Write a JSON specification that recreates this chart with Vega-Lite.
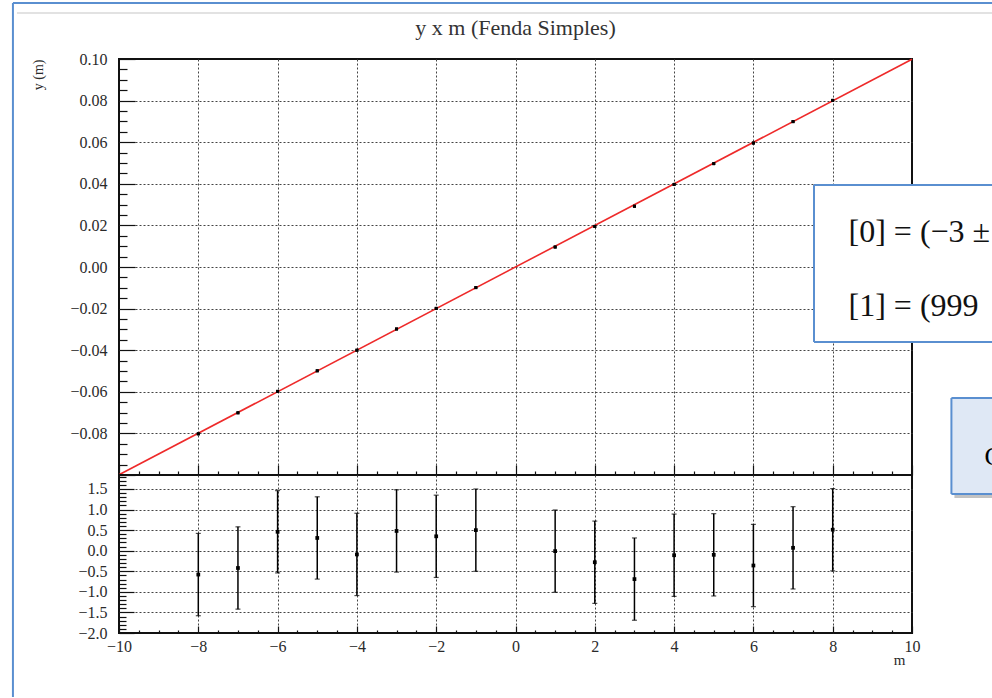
{
  "$schema": "https://vega.github.io/schema/vega-lite/v6.json",
  "background": "white",
  "padding": {"left": 10, "top": 1, "right": 0, "bottom": 0},
  "spacing": 0,
  "bounds": "flush",
  "datasets": {
    "pts": [
      {"m": -8, "y": -0.0802, "res": -0.58, "lo": -1.58, "hi": 0.42},
      {"m": -7, "y": -0.0701, "res": -0.42, "lo": -1.42, "hi": 0.58},
      {"m": -6, "y": -0.0598, "res": 0.46, "lo": -0.54, "hi": 1.46},
      {"m": -5, "y": -0.0499, "res": 0.31, "lo": -0.69, "hi": 1.31},
      {"m": -4, "y": -0.0400, "res": -0.09, "lo": -1.09, "hi": 0.91},
      {"m": -3, "y": -0.0298, "res": 0.48, "lo": -0.52, "hi": 1.48},
      {"m": -2, "y": -0.0199, "res": 0.35, "lo": -0.65, "hi": 1.35},
      {"m": -1, "y": -0.0099, "res": 0.5, "lo": -0.5, "hi": 1.5},
      {"m": 1, "y": 0.0096, "res": -0.01, "lo": -1.01, "hi": 0.99},
      {"m": 2, "y": 0.0195, "res": -0.28, "lo": -1.28, "hi": 0.72},
      {"m": 3, "y": 0.0292, "res": -0.69, "lo": -1.69, "hi": 0.31},
      {"m": 4, "y": 0.0397, "res": -0.11, "lo": -1.11, "hi": 0.89},
      {"m": 5, "y": 0.0497, "res": -0.10, "lo": -1.10, "hi": 0.90},
      {"m": 6, "y": 0.0596, "res": -0.36, "lo": -1.36, "hi": 0.64},
      {"m": 7, "y": 0.0699, "res": 0.07, "lo": -0.93, "hi": 1.07},
      {"m": 8, "y": 0.0801, "res": 0.51, "lo": -0.49, "hi": 1.51}
    ],
    "fit": [
      {"m": -10, "y": -0.0999},
      {"m": 10, "y": 0.0999}
    ],
    "one": [{}]
  },
  "config": {
    "view": {"stroke": "#111", "strokeWidth": 2},
    "axis": {
      "labelFont": "Liberation Serif",
      "titleFont": "Liberation Serif",
      "labelFontSize": 16,
      "titleFontSize": 15,
      "titleFontWeight": "normal",
      "labelColor": "#2a2a2a",
      "titleColor": "#2a2a2a",
      "domain": false,
      "tickColor": "#111",
      "tickWidth": 1.2,
      "gridColor": "#444",
      "gridDash": [2, 2],
      "gridWidth": 1,
      "labelOverlap": false,
      "labelFlush": false
    }
  },
  "vconcat": [
    {
      "width": 793,
      "height": 416,
      "resolve": {"axis": {"x": "independent", "y": "independent"}},
      "layer": [
        {
          "data": {"name": "fit"},
          "mark": {"type": "line", "color": "#ee2a2a", "strokeWidth": 1.6},
          "encoding": {
            "x": {
              "field": "m", "type": "quantitative",
              "scale": {"domain": [-10, 10], "nice": false, "zero": false},
              "axis": {
                "orient": "bottom", "title": null, "labels": false, "ticks": false, "grid": true,
                "values": [-8, -6, -4, -2, 0, 2, 4, 6, 8]
              }
            },
            "y": {
              "field": "y", "type": "quantitative",
              "scale": {"domain": [-0.1, 0.1], "nice": false, "zero": false},
              "axis": {
                "orient": "left",
                "title": "y (m)",
                "titleFontSize": 14,
                "titleAnchor": "end",
                "titleAngle": -90,
                "titleAlign": "right",
                "titleBaseline": "middle",
                "titleX": -81,
                "titleY": 0,
                "values": [-0.08, -0.06, -0.04, -0.02, 0, 0.02, 0.04, 0.06, 0.08, 0.1],
                "format": ".2f",
                "ticks": false,
                "labelPadding": 12,
                "grid": true,
                "gridOpacity": {"condition": {"test": "datum.value > 0.099", "value": 0}, "value": 1}
              }
            }
          }
        },
        {
          "data": {"name": "pts"},
          "mark": {"type": "square", "color": "#000", "size": 9, "opacity": 1},
          "encoding": {
            "x": {
              "field": "m", "type": "quantitative",
              "axis": {"orient": "bottom", "title": null, "labels": false, "grid": false, "tickSize": 10, "offset": -10,
                "values": [-10, -8, -6, -4, -2, 0, 2, 4, 6, 8, 10]}
            },
            "y": {
              "field": "y", "type": "quantitative",
              "axis": {"orient": "left", "title": null, "labels": false, "grid": false, "tickSize": 16, "offset": -16,
                "values": [-0.1, -0.08, -0.06, -0.04, -0.02, 0, 0.02, 0.04, 0.06, 0.08, 0.1]}
            }
          }
        },
        {
          "data": {"name": "pts"},
          "mark": {"type": "square", "color": "#000", "size": 9, "opacity": 1},
          "encoding": {
            "x": {
              "field": "m", "type": "quantitative",
              "axis": {"orient": "bottom", "title": null, "labels": false, "grid": false, "tickSize": 4, "offset": -4,
                "values": [-9.5,-9,-8.5,-7.5,-7,-6.5,-5.5,-5,-4.5,-3.5,-3,-2.5,-1.5,-1,-0.5,0.5,1,1.5,2.5,3,3.5,4.5,5,5.5,6.5,7,7.5,8.5,9,9.5]}
            },
            "y": {
              "field": "y", "type": "quantitative",
              "axis": {"orient": "left", "title": null, "labels": false, "grid": false, "tickSize": 8, "offset": -8,
                "values": [-0.095,-0.09,-0.085,-0.075,-0.07,-0.065,-0.055,-0.05,-0.045,-0.035,-0.03,-0.025,-0.015,-0.01,-0.005,0.005,0.01,0.015,0.025,0.03,0.035,0.045,0.05,0.055,0.065,0.07,0.075,0.085,0.09,0.095]}
            }
          }
        },
        {
          "data": {"name": "one"},
          "mark": {"type": "text", "align": "center", "baseline": "alphabetic", "font": "Liberation Serif", "fontSize": 22, "color": "#333"},
          "encoding": {"x": {"datum": 0, "axis": null}, "y": {"datum": 0.11154, "axis": null}, "text": {"value": "y x m (Fenda Simples)"}}
        },
        {
          "data": {"name": "one"},
          "mark": {"type": "rule", "color": "#5a8fd0", "strokeWidth": 2},
          "encoding": {"x": {"datum": -12.675, "axis": null}, "y": {"datum": 0.12692, "axis": null}, "y2": {"datum": -0.2067}}
        },
        {
          "data": {"name": "one"},
          "mark": {"type": "rule", "color": "#5a8fd0", "strokeWidth": 2},
          "encoding": {"x": {"datum": -12.675, "axis": null}, "x2": {"datum": 12.05}, "y": {"datum": 0.12692, "axis": null}}
        },
        {
          "data": {"name": "one"},
          "mark": {"type": "rule", "color": "#d9d9d9", "strokeWidth": 1.5},
          "encoding": {"x": {"datum": -12.574, "axis": null}, "x2": {"datum": 12.05}, "y": {"datum": 0.12212, "axis": null}}
        },
        {
          "data": {"name": "one"},
          "mark": {"type": "rect", "color": "white"},
          "encoding": {"x": {"datum": 7.528, "axis": null}, "x2": {"datum": 12.05}, "y": {"datum": 0.03942, "axis": null}, "y2": {"datum": -0.03606}}
        },
        {
          "data": {"name": "one"},
          "mark": {"type": "rule", "color": "#5a8fd0", "strokeWidth": 2},
          "encoding": {"x": {"datum": 7.528, "axis": null}, "x2": {"datum": 12.05}, "y": {"datum": 0.03942, "axis": null}}
        },
        {
          "data": {"name": "one"},
          "mark": {"type": "rule", "color": "#5a8fd0", "strokeWidth": 2},
          "encoding": {"x": {"datum": 7.528, "axis": null}, "x2": {"datum": 12.05}, "y": {"datum": -0.03606, "axis": null}}
        },
        {
          "data": {"name": "one"},
          "mark": {"type": "rule", "color": "#5a8fd0", "strokeWidth": 2},
          "encoding": {"x": {"datum": 7.528, "axis": null}, "y": {"datum": 0.03942, "axis": null}, "y2": {"datum": -0.03606}}
        },
        {
          "data": {"name": "one"},
          "mark": {"type": "text", "align": "left", "baseline": "middle", "font": "Liberation Serif", "fontSize": 32, "color": "#111", "limit": 144, "ellipsis": "\u200b"},
          "encoding": {"x": {"datum": 8.40, "axis": null}, "y": {"datum": 0.01683, "axis": null}, "text": {"value": "[0] = (−3 ±"}}
        },
        {
          "data": {"name": "one"},
          "mark": {"type": "text", "align": "left", "baseline": "middle", "font": "Liberation Serif", "fontSize": 32, "color": "#111", "limit": 146, "ellipsis": "\u200b"},
          "encoding": {"x": {"datum": 8.40, "axis": null}, "y": {"datum": -0.01875, "axis": null}, "text": {"value": "[1] = (999 ±"}}
        },
        {
          "data": {"name": "one"},
          "mark": {"type": "rect", "color": "#9a9a9a", "opacity": 0.6},
          "encoding": {"x": {"datum": 11.07, "axis": null}, "x2": {"datum": 12.05}, "y": {"datum": -0.0645, "axis": null}, "y2": {"datum": -0.1111}}
        },
        {
          "data": {"name": "one"},
          "mark": {"type": "rect", "color": "#dfe8f5"},
          "encoding": {"x": {"datum": 10.994, "axis": null}, "x2": {"datum": 12.05}, "y": {"datum": -0.06298, "axis": null}, "y2": {"datum": -0.10913}}
        },
        {
          "data": {"name": "one"},
          "mark": {"type": "rule", "color": "#5a8fd0", "strokeWidth": 2},
          "encoding": {"x": {"datum": 10.994, "axis": null}, "x2": {"datum": 12.05}, "y": {"datum": -0.06298, "axis": null}}
        },
        {
          "data": {"name": "one"},
          "mark": {"type": "rule", "color": "#5a8fd0", "strokeWidth": 2},
          "encoding": {"x": {"datum": 10.994, "axis": null}, "x2": {"datum": 12.05}, "y": {"datum": -0.10913, "axis": null}}
        },
        {
          "data": {"name": "one"},
          "mark": {"type": "rule", "color": "#5a8fd0", "strokeWidth": 2},
          "encoding": {"x": {"datum": 10.994, "axis": null}, "y": {"datum": -0.06298, "axis": null}, "y2": {"datum": -0.10913}}
        },
        {
          "data": {"name": "one"},
          "mark": {"type": "text", "align": "left", "baseline": "middle", "font": "Liberation Serif", "fontSize": 26, "color": "#000"},
          "encoding": {"x": {"datum": 11.827, "axis": null}, "y": {"datum": -0.09135, "axis": null}, "text": {"value": "C"}}
        }
      ]
    },
    {
      "width": 793,
      "height": 158,
      "data": {"name": "pts"},
      "resolve": {"axis": {"x": "independent", "y": "independent"}},
      "layer": [
        {
          "mark": {"type": "rule", "color": "#000", "strokeWidth": 1.5},
          "encoding": {
            "x": {
              "field": "m", "type": "quantitative",
              "scale": {"domain": [-10, 10], "nice": false, "zero": false},
              "axis": {
                "orient": "bottom",
                "title": "m",
                "titleAnchor": "end",
                "titleAlign": "right",
                "titleBaseline": "alphabetic",
                "titleX": 786,
                "titleY": 31,
                "values": [-10, -8, -6, -4, -2, 0, 2, 4, 6, 8, 10],
                "format": "d",
                "ticks": false,
                "labelPadding": 5,
                "grid": true,
                "gridOpacity": {"condition": {"test": "abs(datum.value) > 9.9", "value": 0}, "value": 1}
              }
            },
            "y": {
              "field": "lo", "type": "quantitative",
              "scale": {"domain": [-2, 1.84], "nice": false, "zero": false},
              "axis": {
                "orient": "left",
                "title": null,
                "values": [-2, -1.5, -1, -0.5, 0, 0.5, 1, 1.5],
                "format": ".1f",
                "ticks": false,
                "labelPadding": 12,
                "grid": true,
                "gridOpacity": {"condition": {"test": "datum.value < -1.95", "value": 0}, "value": 1}
              }
            },
            "y2": {"field": "hi"}
          }
        },
        {
          "mark": {"type": "tick", "color": "#000", "orient": "horizontal", "size": 5, "thickness": 1.2},
          "encoding": {
            "x": {
              "field": "m", "type": "quantitative",
              "axis": {"orient": "bottom", "title": null, "labels": false, "grid": false, "tickSize": 7, "offset": -7,
                "values": [-10, -8, -6, -4, -2, 0, 2, 4, 6, 8, 10]}
            },
            "y": {
              "field": "lo", "type": "quantitative",
              "axis": {"orient": "left", "title": null, "labels": false, "grid": false, "tickSize": 15, "offset": -15,
                "values": [-2, -1.5, -1, -0.5, 0, 0.5, 1, 1.5]}
            }
          }
        },
        {
          "mark": {"type": "tick", "color": "#000", "orient": "horizontal", "size": 5, "thickness": 1.2},
          "encoding": {
            "x": {
              "field": "m", "type": "quantitative",
              "axis": {"orient": "bottom", "title": null, "labels": false, "grid": false, "tickSize": 3, "offset": -3,
                "values": [-9.5,-9,-8.5,-7.5,-7,-6.5,-5.5,-5,-4.5,-3.5,-3,-2.5,-1.5,-1,-0.5,0.5,1,1.5,2.5,3,3.5,4.5,5,5.5,6.5,7,7.5,8.5,9,9.5]}
            },
            "y": {
              "field": "hi", "type": "quantitative",
              "axis": {"orient": "left", "title": null, "labels": false, "grid": false, "tickSize": 7, "offset": -7,
                "values": [-1.9,-1.8,-1.7,-1.6,-1.4,-1.3,-1.2,-1.1,-0.9,-0.8,-0.7,-0.6,-0.4,-0.3,-0.2,-0.1,0.1,0.2,0.3,0.4,0.6,0.7,0.8,0.9,1.1,1.2,1.3,1.4,1.6,1.7,1.8]}
            }
          }
        },
        {
          "mark": {"type": "square", "color": "#000", "size": 14, "opacity": 1},
          "encoding": {
            "x": {"field": "m", "type": "quantitative", "axis": null},
            "y": {"field": "res", "type": "quantitative", "axis": null}
          }
        }
      ]
    }
  ]
}
